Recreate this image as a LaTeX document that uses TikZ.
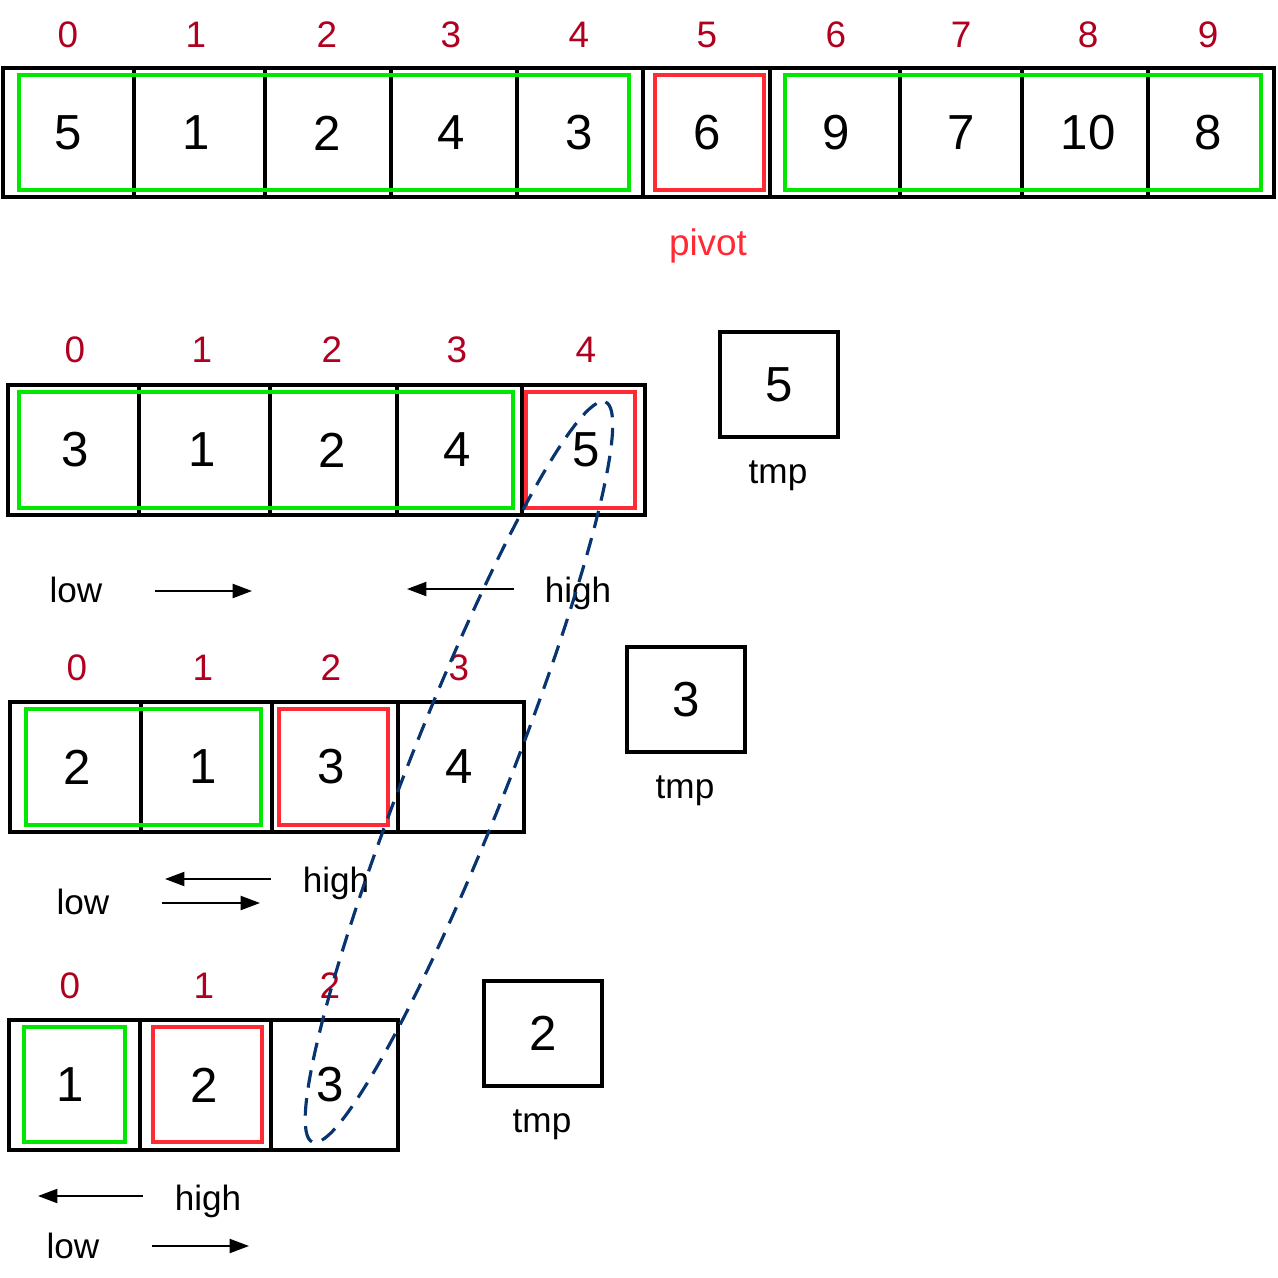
\documentclass[tikz,border=0pt]{standalone}
\usepackage{fontspec}
\setmainfont{Liberation Sans}
\usetikzlibrary{arrows.meta, positioning}
\definecolor{idxred}{RGB}{176,0,32}
\definecolor{pivred}{RGB}{255,42,52}
\definecolor{okgreen}{RGB}{0,232,0}
\definecolor{loopblue}{RGB}{8,52,112}
\tikzset{
  frame/.style={draw=black, line width=2.3pt},
  divider/.style={draw=black, line width=2pt},
  greenbox/.style={draw=okgreen, line width=2.2pt},
  redbox/.style={draw=pivred, line width=2.2pt},
  val/.style={font=\fontsize{28}{32}\selectfont, inner sep=0pt},
  idx/.style={font=\fontsize{21}{24}\selectfont, text=idxred, inner sep=0pt},
  lbl/.style={font=\fontsize{20}{24}\selectfont, anchor=base, inner sep=0pt},
  tmpbox/.style={draw=black, line width=2.3pt, minimum width=2.36cm,
    minimum height=2.1cm, inner sep=0pt, font=\fontsize{28}{32}\selectfont},
  arrow/.style={-{Triangle[length=11pt,width=8pt]}, line width=1.1pt},
  swap/.style={draw=loopblue, line width=1.8pt, dash pattern=on 10pt off 6pt}
}

\begin{document}
\begin{tikzpicture}[x=0.02cm, y=-0.02cm]
\useasboundingbox (0,0) rectangle (1278,1278);
% full array, pivot in the middle
\draw[frame] (3,68) rectangle (1274,197);
\foreach \x in {134,265,391,517,643,770,900,1022,1148}
  \draw[divider] (\x,68) -- (\x,197);
\draw[greenbox] (19,75) rectangle (629,190);
\draw[redbox] (655,75) rectangle (764,190);
\draw[greenbox] (785,75) rectangle (1261,190);
\foreach \x/\v [count=\i from 0] in {68/5, 196/1, 327/2, 451/4, 579/3, 707/6, 836/9, 961/7, 1088/10, 1208/8} {
  \node[idx] (a\i) at (\x,35) {\i};
  \node[val] (av\i) at (\x,133) {\v};
}
\node[lbl, text=pivred, font=\fontsize{21}{24}\selectfont] (pivot) at (708,255) {pivot};

% left part, first pass
\draw[frame] (8,385) rectangle (645,515);
\foreach \x in {139,270,397,522}
  \draw[divider] (\x,385) -- (\x,515);
\draw[greenbox] (19,392) rectangle (513,508);
\draw[redbox] (526,392) rectangle (635,508);
\foreach \x/\v [count=\i from 0] in {75/3, 202/1, 332/2, 457/4, 586/5} {
  \node[idx] (b\i) at (\x,350) {\i};
  \node[val] (bv\i) at (\x,450) {\v};
}
\node[tmpbox] (tmpb) at (779,384.5) {5};
\node[lbl] (tmpblbl) at (778,483) {tmp};
\node[lbl] (lowb) at (76,602) {low};
\node[lbl] (highb) at (578,602) {high};
\coordinate (lowbs) at (155,591);
\coordinate (lowbe) at (252,591);
\coordinate (highbs) at (514,589);
\coordinate (highbe) at (407,589);
\draw[arrow] (lowbs) -- (lowbe);
\draw[arrow] (highbs) -- (highbe);

% second pass
\draw[frame] (10,702) rectangle (524,832);
\foreach \x in {141,272,398}
  \draw[divider] (\x,702) -- (\x,832);
\draw[greenbox] (26,709) rectangle (261,825);
\draw[redbox] (279,709) rectangle (388,825);
\foreach \x/\v [count=\i from 0] in {77/2, 203/1, 331/3, 459/4} {
  \node[idx] (c\i) at (\x,668) {\i};
  \node[val] (cv\i) at (\x,767) {\v};
}
\node[tmpbox] (tmpc) at (686,699.5) {3};
\node[lbl] (tmpclbl) at (685,798) {tmp};
\node[lbl] (highc) at (336,892) {high};
\node[lbl] (lowc) at (83,914) {low};
\coordinate (highcs) at (271,879);
\coordinate (highce) at (165,879);
\coordinate (lowcs) at (162,903);
\coordinate (lowce) at (260,903);
\draw[arrow] (highcs) -- (highce);
\draw[arrow] (lowcs) -- (lowce);

% third pass
\draw[frame] (9,1020) rectangle (398,1150);
\foreach \x in {140,271}
  \draw[divider] (\x,1020) -- (\x,1150);
\draw[greenbox] (24,1027) rectangle (125,1142);
\draw[redbox] (153,1027) rectangle (262,1142);
\foreach \x/\v [count=\i from 0] in {70/1, 204/2, 330/3} {
  \node[idx] (d\i) at (\x,986) {\i};
  \node[val] (dv\i) at (\x,1085) {\v};
}
\node[tmpbox] (tmpd) at (543,1033.5) {2};
\node[lbl] (tmpdlbl) at (542,1132) {tmp};
\node[lbl] (highd) at (208,1210) {high};
\node[lbl] (lowd) at (73,1258) {low};
\coordinate (highds) at (143,1196);
\coordinate (highde) at (38,1196);
\coordinate (lowds) at (152,1246);
\coordinate (lowde) at (249,1246);
\draw[arrow] (highds) -- (highde);
\draw[arrow] (lowds) -- (lowde);

% the pivot values moving down
\coordinate (mid) at (459,772);
\draw[swap, rotate around={68.4:(mid)}] (mid) ellipse [x radius=398, y radius=50];
\end{tikzpicture}
\end{document}
